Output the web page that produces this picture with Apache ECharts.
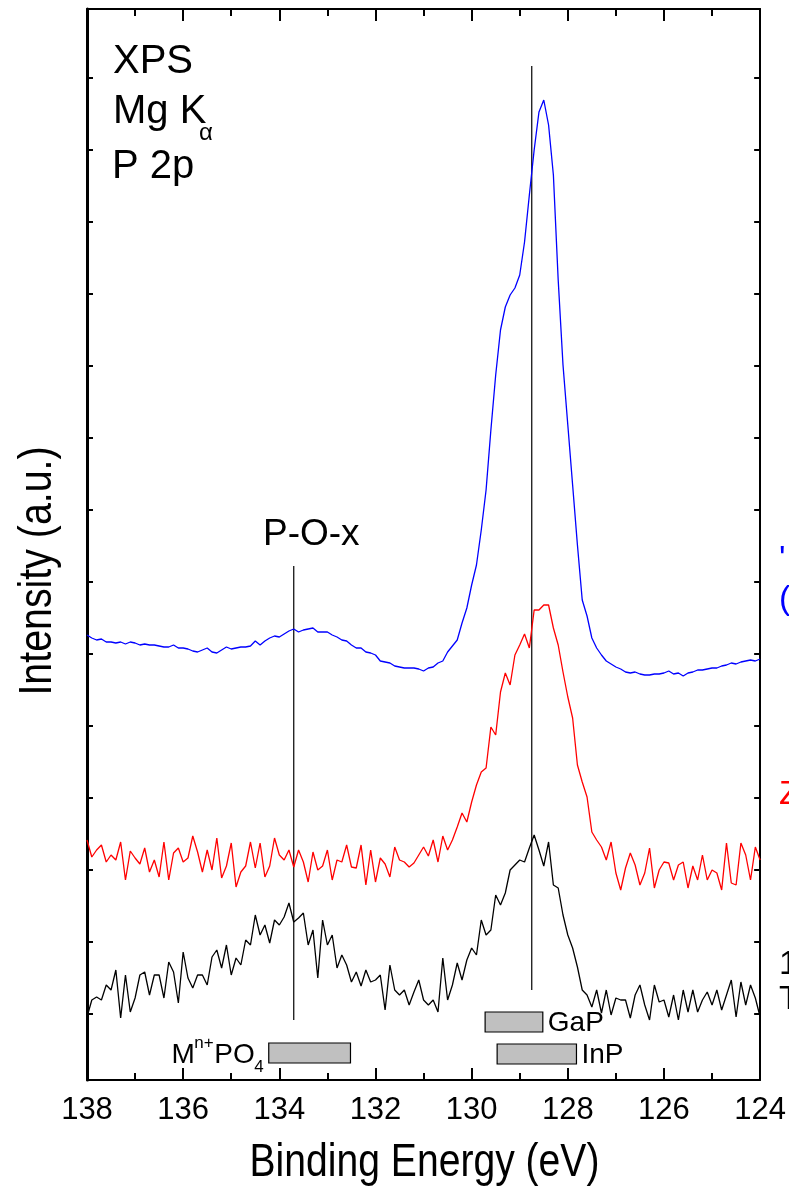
<!DOCTYPE html>
<html><head><meta charset="utf-8">
<script src="https://cdn.jsdelivr.net/npm/echarts@6/dist/echarts.min.js"></script>
<style>html,body{margin:0;padding:0;background:#fff}#c{width:789px;height:1189px}</style>
</head><body><div id="c"></div>
<script>
// Binding energy (eV) for every sample point
const energy = [
138.0,137.9,137.8,137.7,137.6,137.5,137.4,137.3,137.2,137.1,
137.0,136.9,136.8,136.7,136.6,136.5,136.4,136.3,136.2,136.1,
136.0,135.9,135.8,135.7,135.6,135.5,135.4,135.3,135.2,135.1,
135.0,134.9,134.8,134.7,134.6,134.5,134.4,134.3,134.2,134.1,
134.0,133.9,133.8,133.7,133.6,133.5,133.4,133.3,133.2,133.1,
133.0,132.9,132.8,132.7,132.6,132.5,132.4,132.3,132.2,132.1,
132.0,131.9,131.8,131.7,131.6,131.5,131.4,131.3,131.2,131.1,
131.0,130.9,130.8,130.7,130.6,130.5,130.4,130.3,130.2,130.1,
130.0,129.9,129.8,129.7,129.6,129.5,129.4,129.3,129.2,129.1,
129.0,128.9,128.8,128.7,128.6,128.5,128.4,128.3,128.2,128.1,
128.0,127.9,127.8,127.7,127.6,127.5,127.4,127.3,127.2,127.1,
127.0,126.9,126.8,126.7,126.6,126.5,126.4,126.3,126.2,126.1,
126.0,125.9,125.8,125.7,125.6,125.5,125.4,125.3,125.2,125.1,
125.0,124.9,124.8,124.7,124.6,124.5,124.4,124.3,124.2,124.1,
124.0];
// Intensities (a.u., offset curves)
const blueI = [
445,442,440,441,438,438,437,438,436,438,
437,435,436,435,435,434,433,433,435,432,
432,431,429,428,430,432,428,427,430,433,
431,432,433,433,434,439,435,439,442,444,
443,446,449,451,448,450,451,452,448,448,
448,445,443,440,439,435,432,432,428,427,
425,419,418,417,414,413,412,412,412,411,
409,412,413,417,419,428,434,440,457,472,
495,515,550,590,650,705,750,773,785,792,
805,838,885,930,968,980,955,905,800,715,
655,595,535,480,464,442,432,425,419,416,
413,411,408,407,408,406,405,405,406,406,
407,409,406,407,404,407,408,410,410,411,
412,412,414,415,417,416,418,419,420,419,
421];
const redI = [
240,223,230,235,218,225,220,238,200,229,
222,216,232,208,220,203,238,200,227,232,
218,222,244,228,208,230,210,242,202,214,
237,193,208,214,238,212,237,203,214,242,
225,220,230,213,230,218,198,228,210,214,
230,200,220,218,235,213,212,235,195,230,
198,222,216,203,233,220,218,213,217,225,
233,224,240,218,244,230,240,253,267,258,
278,295,308,312,353,345,388,407,395,425,
435,446,432,470,470,475,475,452,435,408,
383,362,315,298,283,248,240,233,220,238,
207,190,212,227,215,195,207,232,192,210,
218,217,200,215,218,192,214,200,225,200,
210,207,190,237,197,195,237,225,200,233,
220];
const blackI = [
63,80,83,80,95,90,110,62,105,68,
82,105,108,85,105,105,82,118,108,77,
128,102,92,105,105,95,123,130,112,135,
105,122,115,140,135,165,145,155,137,160,
155,163,177,158,162,167,135,150,102,160,
135,145,112,125,115,98,108,94,110,98,
100,105,70,115,90,85,90,75,88,100,
80,75,80,68,122,80,95,117,100,120,
132,125,160,145,150,185,175,187,210,215,
220,218,232,245,230,214,238,195,192,165,
145,132,113,90,85,73,90,67,90,65,
82,80,80,62,85,95,75,60,95,78,
80,63,85,60,90,68,90,68,80,88,
75,90,70,85,100,63,98,75,95,82,
63];
// Reference lines: [energy, from, to]
const refLines = [[133.7, 60, 514], [128.75, 90, 1014]];
// Reference ranges: [label, E high, E low, I low, I high]
const refRanges = [
  ['GaP', 129.72, 128.52, 48, 68],
  ['InP', 129.47, 127.82, 16, 36],
  ['MPO4', 134.22, 132.52, 17, 37]
];
const yTicks = [66,138,210,282,354,426,498,570,642,714,786,858,930,1002];
const xTickLabels = ['124','126','128','130','132','134','136','138'];

const FONT = "'Liberation Sans',Arial,sans-serif";
const chart = echarts.init(document.getElementById('c'), null, {renderer:'canvas'});
const pairs = arr => arr.map((v,i)=>[energy[i], v]);
const axisX = (pos, labels) => ({
  type:'value', position:pos, min:124, max:138, interval:2, inverse:true,
  axisLine:{show:true, onZero:false, lineStyle:{color:'#000', width:2}},
  axisTick:{show:true, inside:true, length:12, lineStyle:{color:'#000', width:2}},
  minorTick:{show:true, splitNumber:2, length:7, lineStyle:{color:'#000', width:2}},
  axisLabel:{show:labels, color:'#000', fontSize:31, fontFamily:FONT, margin:15},
  splitLine:{show:false}, minorSplitLine:{show:false}
});
const axisY = (pos) => ({
  type:'value', position:pos, min:0, max:1071,
  axisLine:{show:true, onZero:false, lineStyle:{color:'#000', width:pos==='left'?3:2}},
  axisTick:{show:true, inside:true, length:6, customValues:yTicks, lineStyle:{color:'#000', width:2}},
  axisLabel:{show:false}, splitLine:{show:false}
});
const xA = axisX('bottom', true);
xA.axisLabel.formatter = v => xTickLabels[xTickLabels.indexOf(String(v))] || '';
const yA = axisY('left');

const txt = (x,y,t,size,color,extra) => Object.assign({type:'text', x:x, y:y, silent:true,
  style:{text:t, fill:color||'#000', font: size+'px '+FONT, textVerticalAlign:'middle'}}, extra||{});

chart.setOption({
  animation:false,
  backgroundColor:'#fff',
  grid:{left:87, right:27, top:9, bottom:109, containLabel:false},
  xAxis:[xA, axisX('top', false)],
  yAxis:[yA, axisY('right')],
  series:[
    {type:'line', data:pairs(blueI), showSymbol:false, lineStyle:{color:'#0000ff', width:1.3}, itemStyle:{color:'#0000ff'}, z:3},
    {type:'line', data:pairs(redI), showSymbol:false, lineStyle:{color:'#ff0000', width:1.3}, itemStyle:{color:'#ff0000'}, z:3},
    {type:'line', data:pairs(blackI), showSymbol:false, lineStyle:{color:'#000', width:1.3}, itemStyle:{color:'#000'}, z:3},
    {type:'custom', z:2, data: refLines, renderItem:(p, api)=>{
      const a = api.coord([api.value(0), api.value(1)]);
      const b = api.coord([api.value(0), api.value(2)]);
      return {type:'line', shape:{x1:a[0],y1:a[1],x2:b[0],y2:b[1]}, style:{stroke:'#000', lineWidth:1.2}};
    }},
    {type:'custom', z:4, data: refRanges.map(r=>[r[1],r[2],r[3],r[4]]), renderItem:(p, api)=>{
      const a = api.coord([api.value(0), api.value(3)]);
      const b = api.coord([api.value(1), api.value(2)]);
      const name = refRanges[p.dataIndex][0];
      const ch = [{type:'rect', shape:{x:a[0], y:a[1], width:b[0]-a[0], height:b[1]-a[1]}, style:{fill:'#c0c0c0', stroke:'#000', lineWidth:1.2}}];
      const my = (a[1]+b[1])/2;
      const t = (x, y, s, size, al) => ({type:'text', x:x, y:y, style:{text:s, font:size+'px '+FONT, fill:'#000', textAlign:al, textVerticalAlign:'middle'}});
      if (name === 'MPO4') {
        const r = a[0]-5;
        ch.push(t(r, my+14, '4', 17, 'right'));
        ch.push(t(r-9, my+2, 'PO', 28, 'right'));
        ch.push(t(r-50, my-10, 'n+', 17, 'right'));
        ch.push(t(r-69, my+2, 'M', 28, 'right'));
      } else {
        ch.push(t(b[0]+5, my+1, name, 28, 'left'));
      }
      return {type:'group', children:ch};
    }}
  ],
  graphic:[
    txt(113, 62, 'XPS', 40),
    txt(113, 112, 'Mg K', 40),
    txt(199, 133, 'α', 24),
    txt(112, 167, 'P 2p', 40),
    txt(263, 535, 'P-O-x', 37),
    txt(424.5, 1163, 'Binding Energy (eV)', 46, '#000', {scaleX:0.85, style:{text:'Binding Energy (eV)', fill:'#000', font:'46px '+FONT, textAlign:'center', textVerticalAlign:'middle'}}),
    txt(38, 571, 'Intensity (a.u.)', 46, '#000', {rotation:Math.PI/2, scaleX:0.855, style:{text:'Intensity (a.u.)', fill:'#000', font:'46px '+FONT, textAlign:'center', textVerticalAlign:'middle'}}),
    txt(779, 560, "'", 34, '#0000ff'),
    txt(779, 600, '(', 34, '#0000ff'),
    txt(779, 795, 'Z', 34, '#ff0000'),
    txt(779, 965, '1', 34),
    txt(779, 1000, 'T', 34)
  ]
});
</script></body></html>
